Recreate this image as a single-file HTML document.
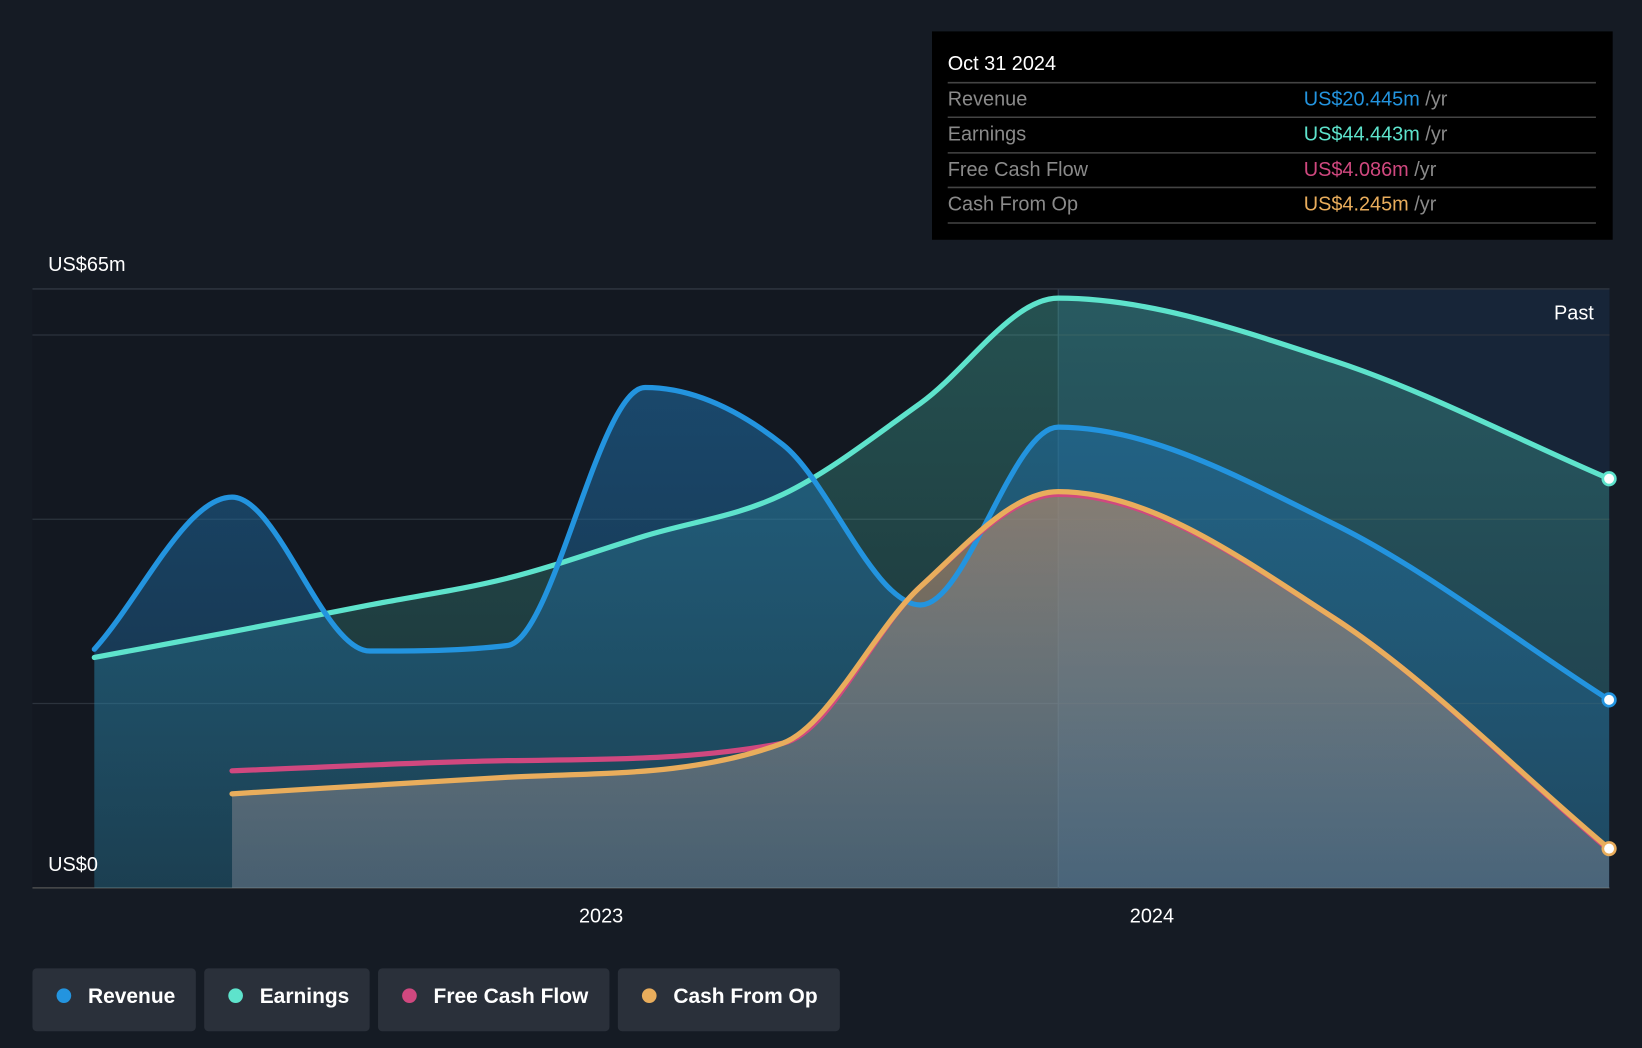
<!DOCTYPE html>
<html><head><meta charset="utf-8"><style>
html,body{margin:0;padding:0;background:#151b24;}
svg{display:block;font-family:"Liberation Sans",sans-serif;}
</style></head><body>
<svg id="chart" width="1642" height="1048" viewBox="0 0 1568 1001" preserveAspectRatio="none" xmlns="http://www.w3.org/2000/svg">
<defs>
<linearGradient id="gRev" x1="0" y1="0" x2="0" y2="1"><stop offset="0" stop-color="#1f6fa8" stop-opacity="0.55"/><stop offset="1" stop-color="#1f6fa8" stop-opacity="0.25"/></linearGradient>
<linearGradient id="gEarn" x1="0" y1="0" x2="0" y2="1"><stop offset="0" stop-color="#4fd6c0" stop-opacity="0.3"/><stop offset="1" stop-color="#4fd6c0" stop-opacity="0.12"/></linearGradient>
<linearGradient id="gCfo" x1="0" y1="0" x2="0" y2="1"><stop offset="0" stop-color="#c9906a" stop-opacity="0.6"/><stop offset="1" stop-color="#9a9aa8" stop-opacity="0.35"/></linearGradient>
</defs>
<rect x="0" y="0" width="1568" height="1001" fill="#151b24"/>
<rect x="31" y="276" width="1506" height="572" fill="#131821"/>
<rect id="pastRegion" y="276" height="572" fill="#172538"/>
<g id="grid"></g>
<g id="areas"></g>
<g id="lines"></g>
<text x="46" y="259" fill="#ffffff" font-size="19">US$65m</text>
<text x="46" y="832" fill="#ffffff" font-size="19">US$0</text>
<text x="1522" y="305" fill="#ffffff" font-size="19" text-anchor="end">Past</text>
<g id="xticks"></g>
<g>
<rect x="890" y="30" width="650" height="199" fill="#000"/>
<text x="905" y="67" fill="#fff" font-size="19">Oct 31 2024</text>
<g stroke="#444" stroke-width="1.5"><line x1="905" y1="79" x2="1524" y2="79"/><line x1="905" y1="112" x2="1524" y2="112"/><line x1="905" y1="146" x2="1524" y2="146"/><line x1="905" y1="179" x2="1524" y2="179"/><line x1="905" y1="213" x2="1524" y2="213"/></g>
<g font-size="19" fill="#8a8a8a">
<text x="905" y="101">Revenue</text>
<text x="905" y="134">Earnings</text>
<text x="905" y="168">Free Cash Flow</text>
<text x="905" y="201">Cash From Op</text>
<text x="1245" y="101"><tspan fill="#2394df">US$20.445m</tspan> /yr</text>
<text x="1245" y="134"><tspan fill="#5ee3cc">US$44.443m</tspan> /yr</text>
<text x="1245" y="168"><tspan fill="#d0487f">US$4.086m</tspan> /yr</text>
<text x="1245" y="201"><tspan fill="#e9ad5c">US$4.245m</tspan> /yr</text>
</g></g>
<g font-size="20" fill="#fff" font-weight="bold">
<g><rect x="31" y="925" width="156" height="60" rx="4" fill="#2a303a"/><circle cx="61" cy="951" r="7" fill="#2394df"/><text x="84" y="958">Revenue</text></g>
<g><rect x="195" y="925" width="158" height="60" rx="4" fill="#2a303a"/><circle cx="225" cy="951" r="7" fill="#5ee3cc"/><text x="248" y="958">Earnings</text></g>
<g><rect x="361" y="925" width="221" height="60" rx="4" fill="#2a303a"/><circle cx="391" cy="951" r="7" fill="#d0487f"/><text x="414" y="958">Free Cash Flow</text></g>
<g><rect x="590" y="925" width="212" height="60" rx="4" fill="#2a303a"/><circle cx="620" cy="951" r="7" fill="#e9ad5c"/><text x="643" y="958">Cash From Op</text></g>
</g>
</svg>
<script>
const revDates=[2022.08,2022.33,2022.58,2022.83,2023.08,2023.33,2023.58,2023.83,2024.33,2024.83];
const revenue=[25.9,42.4,25.7,26.3,54.3,48.1,30.7,50.0,39.5,20.4];
const earnDates=[2022.08,2022.33,2022.58,2022.83,2023.08,2023.33,2023.58,2023.83,2024.33,2024.83];
const earnings=[25.0,27.8,30.7,33.6,38.2,42.7,52.6,64.0,57.2,44.4];
const cfDates=[2022.33,2022.83,2023.33,2023.58,2023.83,2024.33,2024.83];
const fcf=[12.7,13.8,15.7,32.7,42.7,29.3,4.09];
const cfo=[10.2,12.0,15.7,32.7,43.0,29.3,4.25];
const gridVals=[0,20,40,60,65];
const xTickYears=[2023,2024];
const xTickLabels=["2023","2024"];
const pastStart=2023.83;

const NS="http://www.w3.org/2000/svg";
const X=t=>574+(t-2023)*526;
const Y=v=>848-v*572/65;
function mk(tag,attrs,parent){const e=document.createElementNS(NS,tag);for(const k in attrs)e.setAttribute(k,attrs[k]);parent.appendChild(e);return e;}
function monotone(xs,ys){
  const n=xs.length,d=[],m=[];
  for(let i=0;i<n-1;i++)d.push((ys[i+1]-ys[i])/(xs[i+1]-xs[i]));
  for(let i=0;i<n;i++){
    if(i==0)m.push(d[0]);else if(i==n-1)m.push(d[n-2]);
    else m.push(d[i-1]*d[i]<=0?0:(d[i-1]+d[i])/2);
  }
  for(let i=0;i<n-1;i++){if(d[i]==0){m[i]=m[i+1]=0;continue;}const a=m[i]/d[i],b=m[i+1]/d[i],s=a*a+b*b;if(s>9){const t=3/Math.sqrt(s);m[i]=t*a*d[i];m[i+1]=t*b*d[i];}}
  let p=`M${xs[0]},${ys[0]}`;
  for(let i=0;i<n-1;i++){const h=(xs[i+1]-xs[i])/3;p+=` C${xs[i]+h},${ys[i]+m[i]*h} ${xs[i+1]-h},${ys[i+1]-m[i+1]*h} ${xs[i+1]},${ys[i+1]}`;}
  return p;
}
const past=document.getElementById('pastRegion');
past.setAttribute('x',X(pastStart));past.setAttribute('width',1537-X(pastStart));
const grid=document.getElementById('grid');
gridVals.forEach(v=>{const l=mk('line',{x1:31,x2:1537,y1:Y(v),y2:Y(v),stroke:v==0?'#555':'#2c333d','stroke-width':v==65?1.5:1.2},grid);

});
const pl=mk('line',{x1:X(pastStart),x2:X(pastStart),y1:276,y2:848,stroke:'#2c3a4a','stroke-width':1.2},grid);


const xt=document.getElementById('xticks');
xTickYears.forEach((y,i)=>{const t=mk('text',{x:X(y),y:881,fill:'#fff','font-size':19,'text-anchor':'middle'},xt);t.textContent=xTickLabels[i];

});
const areas=document.getElementById('areas'),lines=document.getElementById('lines');
const series=[
 {n:'earnings',d:earnDates,v:earnings,c:'#5ee3cc',f:'url(#gEarn)'},
 {n:'revenue',d:revDates,v:revenue,c:'#2394df',f:'url(#gRev)'},
 {n:'fcf',d:cfDates,v:fcf,c:'#d0487f',f:null},
 {n:'cfo',d:cfDates,v:cfo,c:'#e9ad5c',f:'url(#gCfo)'}];
series.forEach(s=>{
  const xs=s.d.map(X),ys=s.v.map(Y);const p=monotone(xs,ys);
  if(s.f){const a=mk('path',{d:p+` L${xs[xs.length-1]},848 L${xs[0]},848 Z`,fill:s.f},areas);
    
    }
});
[series[0],series[1],series[2],series[3]].forEach(s=>{
  const xs=s.d.map(X),ys=s.v.map(Y);
  const l=mk('path',{d:monotone(xs,ys),fill:'none',stroke:s.c,'stroke-width':5,'stroke-linecap':'round'},lines);
  
  
});
series.forEach(s=>{if(s.n=='fcf')return;const i=s.d.length-1;
  const c=mk('circle',{cx:X(s.d[i]),cy:Y(s.v[i]),r:6,fill:'#fff',stroke:s.c,'stroke-width':2.5},lines);
  
  });
</script>
</body></html>
